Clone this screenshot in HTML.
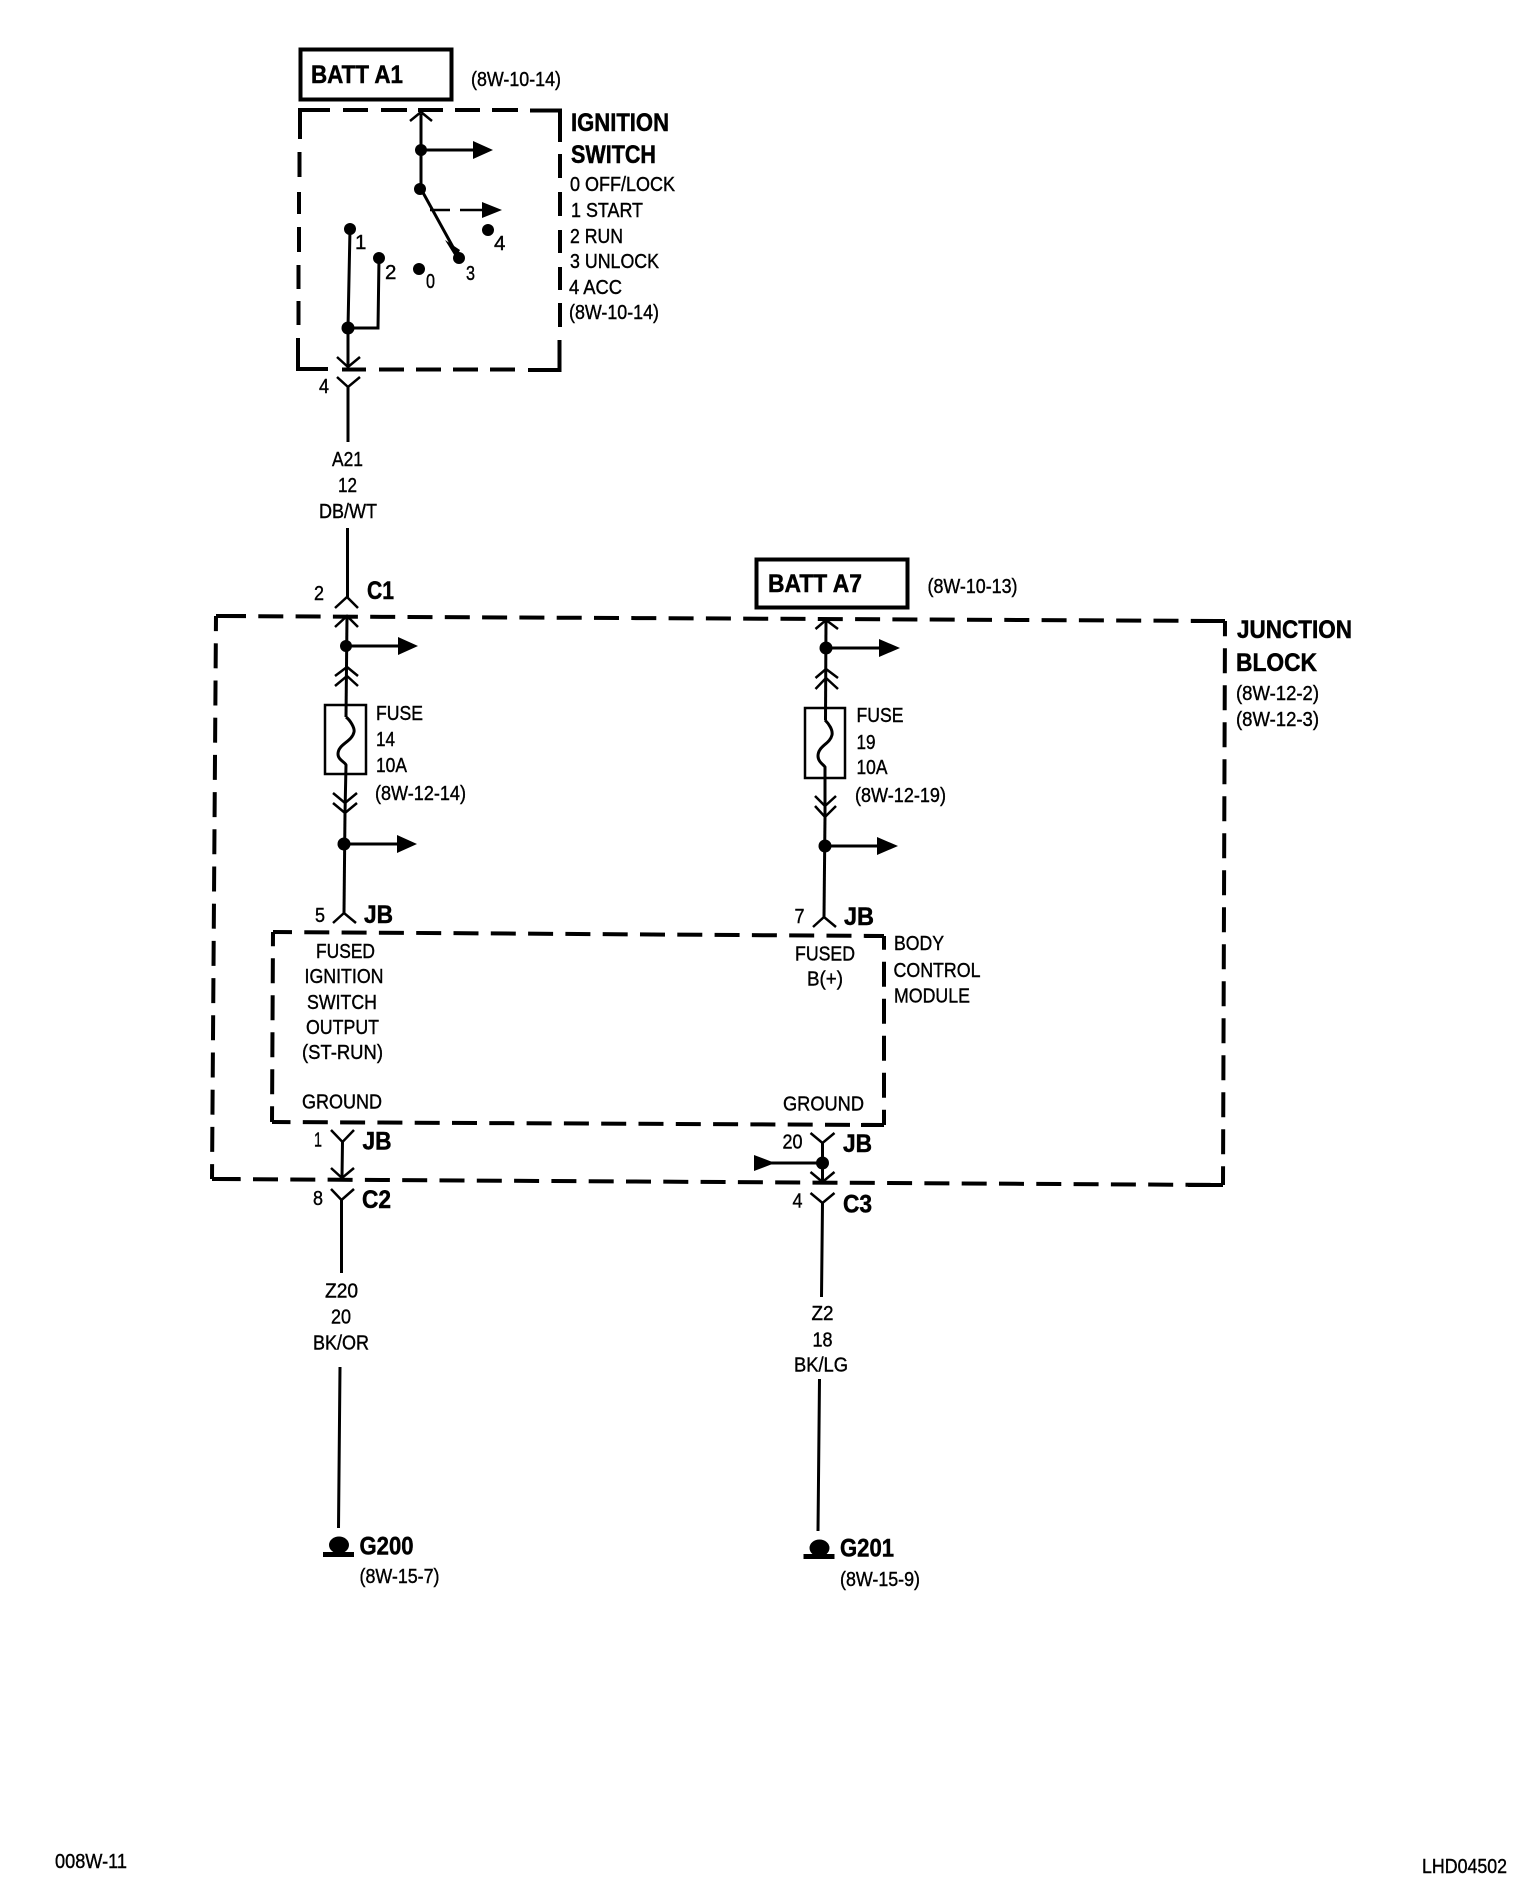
<!DOCTYPE html>
<html><head><meta charset="utf-8"><style>
html,body{margin:0;padding:0;background:#fff}
svg{display:block}
text{font-family:"Liberation Sans",sans-serif;fill:#000;stroke:#000;stroke-width:.4}
.r{font-size:20.5px}
.b{font-size:25px;font-weight:700;stroke-width:.5}
.d{fill:none;stroke:#000;stroke-width:4}
.w{fill:none;stroke:#000;stroke-width:3}
.c{fill:none;stroke:#000;stroke-width:2.5}
</style></head><body>
<svg xmlns="http://www.w3.org/2000/svg" width="1536" height="1896" viewBox="0 0 1536 1896">
<rect width="1536" height="1896" fill="#fff"/>

<!-- Boxes -->
<rect x="300.5" y="49.5" width="151" height="50" class="d"/>
<rect x="756.5" y="559.5" width="151" height="48" class="d"/>

<!-- Ignition switch dashed box -->
<path class="d" d="M330 110H300V139M343 110H368M381 110H407M418 110H443M455 110H480M492 110H518M530 110.5H560V142M560 154V178M560 192V216M560 230V253M560 267V290M560 303V327M559.5 340V370H528M515 369.5H490M478 369.5H453M441 369.5H416M404 369.5H379M366 369.5H342M328 369H298V338M298.5 325V301M298.5 289V265M299 252V227M299 214V192M299.5 177V152"/>

<!-- Junction block dashed box -->
<path class="d" d="M216 616L1225 621" stroke-dasharray="25 12.3" stroke-dashoffset="32.3"/>
<path class="d" d="M216 616H246M1191 621H1225"/>
<path class="d" d="M1225 621L1223 1185" stroke-dasharray="25 12" stroke-dashoffset="9.7"/>
<path class="d" d="M216 616L212 1179" stroke-dasharray="25 12.2" stroke-dashoffset="9.9"/>
<path class="d" d="M212 1179L1223 1185" stroke-dasharray="25 12.3" stroke-dashoffset="33.6"/>
<path class="d" d="M212 1179H240M1188 1185H1223"/>

<!-- Body control module dashed box -->
<path class="d" d="M273 932L884 936" stroke-dasharray="25 12.3" stroke-dashoffset="6"/>
<path class="d" d="M865 936H884"/>
<path class="d" d="M884 936V1125" stroke-dasharray="25 12" stroke-dashoffset="11.3"/>
<path class="d" d="M273 932L272 1122" stroke-dasharray="25 12" stroke-dashoffset="10.7"/>
<path class="d" d="M272 1122L884 1125" stroke-dasharray="25 12.3" stroke-dashoffset="6.5"/>
<path class="d" d="M861 1125H884"/>

<!-- Ignition switch contents -->
<path class="w" d="M421 114V189L459 258"/>
<path class="c" d="M410 121L421 112L432 121"/>
<path class="w" d="M421 150H475"/>
<polygon points="473,141 493,150 473,159"/>
<path class="c" d="M430 210H450M460 210H484"/>
<polygon points="482,202 502,210 482,218"/>
<polygon points="445,240 456,258 460,250" />
<circle cx="421" cy="150" r="6"/><circle cx="420" cy="189" r="6"/><circle cx="459" cy="258" r="6"/>
<circle cx="488" cy="230" r="6"/><circle cx="419" cy="269" r="6"/>
<circle cx="350" cy="229" r="6"/><circle cx="379" cy="258" r="6"/><circle cx="348" cy="328" r="6.5"/>
<path class="w" d="M350 229L348 328V367M379 258L378 328H348"/>
<path class="c" d="M337 357L348 367L360 357M337 377L348 387L360 377"/>
<path class="w" d="M348 387V442"/>

<!-- Wire A21 -->
<path class="w" d="M347.5 528V597"/>

<!-- Column 1 -->
<path class="c" d="M335 608L347 597L358 608M335 627L347 616L358 627"/>
<path class="w" d="M347 616L346 717"/>
<circle cx="346" cy="646" r="6"/>
<path class="w" d="M346 646H400"/>
<polygon points="398,637 418,646 398,655"/>
<path class="c" d="M335 676L347 667L358 676M335 686L347 676L358 686"/>
<rect x="325" y="705" width="41" height="69" fill="none" stroke="#000" stroke-width="2.5"/>
<path class="w" d="M346 717C350 720 355 728 354 732C352 742 338 744 338 754C338 760 345 762 346 765L345 813"/>
<path class="c" d="M333 793L345 803L357 793M333 803L345 813L357 803"/>
<path class="w" d="M345 813L344 913"/>
<circle cx="344" cy="844" r="6.5"/>
<path class="w" d="M344 844H399"/>
<polygon points="397,835 417,844 397,853"/>
<path class="c" d="M333 923L344 913L356 923"/>

<!-- Column 2 -->
<path class="c" d="M815.5 629L826 620L838 629M815.5 678L826 669L838 678M815.5 689L826 678L838 689"/>
<path class="w" d="M826 620L825.5 720"/>
<circle cx="826" cy="648" r="6.5"/>
<path class="w" d="M826 648H881"/>
<polygon points="879,639 900,648 879,657"/>
<rect x="805" y="708" width="40" height="70" fill="none" stroke="#000" stroke-width="2.5"/>
<path class="w" d="M825 720C829 724 833 730 832 735C830 744 818 746 818 756C818 762 824 765 825 767V817"/>
<path class="c" d="M815 796L825 806L836 796M815 806L825 817L836 806"/>
<path class="w" d="M825 817L824 917"/>
<circle cx="825" cy="846" r="6.5"/>
<path class="w" d="M825 846H879"/>
<polygon points="877,837 898,846 877,855"/>
<path class="c" d="M813 927L824 917L836 927"/>

<!-- Lower connectors -->
<path class="c" d="M331 1130L342.5 1142L354 1130M331 1168L342 1178L354 1168M331 1189L341.5 1200L354 1189"/>
<path class="w" d="M342.5 1142L342 1177M341.5 1200V1273M340 1367L338.5 1528"/>
<path class="c" d="M810.5 1133L822.5 1143L834.5 1133M810.5 1172L822.5 1182L834.5 1172M810.5 1193L822.5 1203L834.5 1193"/>
<path class="w" d="M822.5 1143V1182M822.5 1203L821.5 1297M819.5 1379L818 1531"/>
<polygon points="754,1155 775,1163 754,1171"/>
<path class="w" d="M770 1163H822.5"/>
<circle cx="822.5" cy="1163" r="6.5"/>

<!-- Grounds -->
<ellipse cx="339" cy="1545" rx="10" ry="8.5"/><rect x="323" y="1552" width="31" height="5"/>
<ellipse cx="819.5" cy="1548" rx="10" ry="8.5"/><rect x="803.5" y="1554" width="31" height="5"/>

<!-- Text -->
<text class="b" x="311" y="83" textLength="92" lengthAdjust="spacingAndGlyphs">BATT A1</text>
<text class="r" x="471" y="86" textLength="90" lengthAdjust="spacingAndGlyphs">(8W-10-14)</text>
<text class="b" x="571" y="131" textLength="98" lengthAdjust="spacingAndGlyphs">IGNITION</text>
<text class="b" x="571" y="163" textLength="85" lengthAdjust="spacingAndGlyphs">SWITCH</text>
<text class="r" x="570" y="191" textLength="105" lengthAdjust="spacingAndGlyphs">0 OFF/LOCK</text>
<text class="r" x="571" y="217" textLength="72" lengthAdjust="spacingAndGlyphs">1 START</text>
<text class="r" x="570" y="243" textLength="53" lengthAdjust="spacingAndGlyphs">2 RUN</text>
<text class="r" x="570" y="268" textLength="89" lengthAdjust="spacingAndGlyphs">3 UNLOCK</text>
<text class="r" x="569" y="294" textLength="53" lengthAdjust="spacingAndGlyphs">4 ACC</text>
<text class="r" x="569" y="319" textLength="90" lengthAdjust="spacingAndGlyphs">(8W-10-14)</text>
<text class="r" x="355" y="249">1</text>
<text class="r" x="385" y="279">2</text>
<text class="r" x="426" y="288" textLength="9" lengthAdjust="spacingAndGlyphs">0</text>
<text class="r" x="466" y="280" textLength="9" lengthAdjust="spacingAndGlyphs">3</text>
<text class="r" x="494" y="250">4</text>
<text class="r" x="319" y="393" textLength="10" lengthAdjust="spacingAndGlyphs">4</text>

<text class="r" x="332" y="466" textLength="31" lengthAdjust="spacingAndGlyphs">A21</text>
<text class="r" x="338" y="492" textLength="19" lengthAdjust="spacingAndGlyphs">12</text>
<text class="r" x="319" y="518" textLength="58" lengthAdjust="spacingAndGlyphs">DB/WT</text>

<text class="r" x="314" y="600" textLength="10" lengthAdjust="spacingAndGlyphs">2</text>
<text class="b" x="367" y="599" textLength="27" lengthAdjust="spacingAndGlyphs">C1</text>
<text class="r" x="376" y="720" textLength="47" lengthAdjust="spacingAndGlyphs">FUSE</text>
<text class="r" x="376" y="746" textLength="19" lengthAdjust="spacingAndGlyphs">14</text>
<text class="r" x="376" y="772" textLength="31" lengthAdjust="spacingAndGlyphs">10A</text>
<text class="r" x="375" y="800" textLength="91" lengthAdjust="spacingAndGlyphs">(8W-12-14)</text>
<text class="r" x="315" y="922" textLength="10" lengthAdjust="spacingAndGlyphs">5</text>
<text class="b" x="364" y="923" textLength="29" lengthAdjust="spacingAndGlyphs">JB</text>

<text class="b" x="768" y="592" textLength="94" lengthAdjust="spacingAndGlyphs">BATT A7</text>
<text class="r" x="927.5" y="593" textLength="90" lengthAdjust="spacingAndGlyphs">(8W-10-13)</text>
<text class="r" x="856.5" y="722" textLength="47" lengthAdjust="spacingAndGlyphs">FUSE</text>
<text class="r" x="856.5" y="749" textLength="19" lengthAdjust="spacingAndGlyphs">19</text>
<text class="r" x="856.5" y="774" textLength="31" lengthAdjust="spacingAndGlyphs">10A</text>
<text class="r" x="855" y="802" textLength="91" lengthAdjust="spacingAndGlyphs">(8W-12-19)</text>
<text class="r" x="794.5" y="923" textLength="10" lengthAdjust="spacingAndGlyphs">7</text>
<text class="b" x="844" y="925" textLength="30" lengthAdjust="spacingAndGlyphs">JB</text>
<text class="b" x="1237" y="638" textLength="115" lengthAdjust="spacingAndGlyphs">JUNCTION</text>
<text class="b" x="1236" y="671" textLength="81" lengthAdjust="spacingAndGlyphs">BLOCK</text>
<text class="r" x="1236" y="700" textLength="83" lengthAdjust="spacingAndGlyphs">(8W-12-2)</text>
<text class="r" x="1236" y="726" textLength="83" lengthAdjust="spacingAndGlyphs">(8W-12-3)</text>

<text class="r" x="316" y="958" textLength="59" lengthAdjust="spacingAndGlyphs">FUSED</text>
<text class="r" x="304.5" y="983" textLength="79" lengthAdjust="spacingAndGlyphs">IGNITION</text>
<text class="r" x="307" y="1009" textLength="70" lengthAdjust="spacingAndGlyphs">SWITCH</text>
<text class="r" x="306" y="1034" textLength="73" lengthAdjust="spacingAndGlyphs">OUTPUT</text>
<text class="r" x="302" y="1059" textLength="81" lengthAdjust="spacingAndGlyphs">(ST-RUN)</text>
<text class="r" x="302" y="1108.5" textLength="80" lengthAdjust="spacingAndGlyphs">GROUND</text>
<text class="r" x="795" y="960.5" textLength="60" lengthAdjust="spacingAndGlyphs">FUSED</text>
<text class="r" x="807" y="985.5" textLength="36" lengthAdjust="spacingAndGlyphs">B(+)</text>
<text class="r" x="783" y="1110.5" textLength="81" lengthAdjust="spacingAndGlyphs">GROUND</text>
<text class="r" x="894" y="950" textLength="50" lengthAdjust="spacingAndGlyphs">BODY</text>
<text class="r" x="893.5" y="977" textLength="87" lengthAdjust="spacingAndGlyphs">CONTROL</text>
<text class="r" x="894" y="1002.5" textLength="76" lengthAdjust="spacingAndGlyphs">MODULE</text>

<text class="r" x="314" y="1146.5" textLength="8" lengthAdjust="spacingAndGlyphs">1</text>
<text class="b" x="362.5" y="1149.5" textLength="29" lengthAdjust="spacingAndGlyphs">JB</text>
<text class="r" x="313" y="1205" textLength="10" lengthAdjust="spacingAndGlyphs">8</text>
<text class="b" x="362" y="1208" textLength="29" lengthAdjust="spacingAndGlyphs">C2</text>
<text class="r" x="782.5" y="1148.5" textLength="20" lengthAdjust="spacingAndGlyphs">20</text>
<text class="b" x="843" y="1152" textLength="29" lengthAdjust="spacingAndGlyphs">JB</text>
<text class="r" x="792.5" y="1207.5" textLength="10" lengthAdjust="spacingAndGlyphs">4</text>
<text class="b" x="843" y="1212.5" textLength="29" lengthAdjust="spacingAndGlyphs">C3</text>

<text class="r" x="325" y="1297.5" textLength="33" lengthAdjust="spacingAndGlyphs">Z20</text>
<text class="r" x="331" y="1323.5" textLength="20" lengthAdjust="spacingAndGlyphs">20</text>
<text class="r" x="313" y="1349.5" textLength="56" lengthAdjust="spacingAndGlyphs">BK/OR</text>
<text class="r" x="811.5" y="1320" textLength="22" lengthAdjust="spacingAndGlyphs">Z2</text>
<text class="r" x="812.5" y="1346.5" textLength="20" lengthAdjust="spacingAndGlyphs">18</text>
<text class="r" x="794" y="1371.5" textLength="54" lengthAdjust="spacingAndGlyphs">BK/LG</text>

<text class="b" x="359.5" y="1554.5" textLength="54" lengthAdjust="spacingAndGlyphs">G200</text>
<text class="r" x="359.5" y="1583" textLength="80" lengthAdjust="spacingAndGlyphs">(8W-15-7)</text>
<text class="b" x="840" y="1556.5" textLength="54" lengthAdjust="spacingAndGlyphs">G201</text>
<text class="r" x="840" y="1586" textLength="80" lengthAdjust="spacingAndGlyphs">(8W-15-9)</text>

<text class="r" x="55" y="1868" textLength="72" lengthAdjust="spacingAndGlyphs">008W-11</text>
<text class="r" x="1422" y="1873" textLength="85" lengthAdjust="spacingAndGlyphs">LHD04502</text>
</svg>
</body></html>
